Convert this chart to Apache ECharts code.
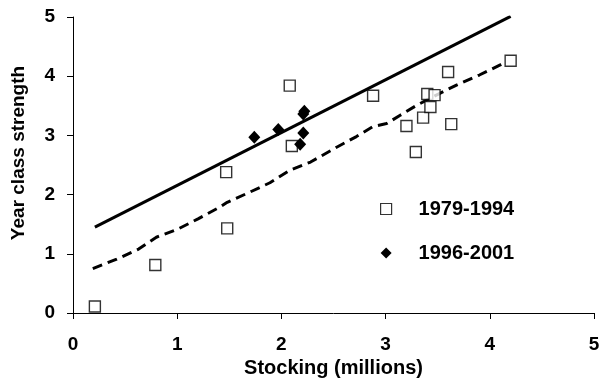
<!DOCTYPE html>
<html><head><meta charset="utf-8">
<script src="https://cdn.jsdelivr.net/npm/echarts@6/dist/echarts.min.js"></script>
<style>html,body{margin:0;padding:0;background:#fff}#c{width:600px;height:379px}</style>
</head><body><div id="c"></div>
<script>
const xTicks = [0,1,2,3,4,5];
const yTicks = [0,1,2,3,4,5];
const squares1979 = [[0.21,0.11],[0.79,0.81],[1.48,1.43],[1.47,2.38],[2.08,3.84],[2.10,2.82],[2.88,3.67],[3.20,3.16],[3.29,2.72],[3.36,3.30],[3.40,3.70],[3.47,3.68],[3.43,3.48],[3.60,4.07],[3.63,3.19],[4.20,4.26]];
const diamonds1996 = [[1.74,2.97],[1.97,3.10],[2.22,3.41],[2.21,3.36],[2.21,3.04],[2.18,2.85]];
const solidFit = [[0.21,1.45],[4.2,5.01]];
const dashedFit = [[0.19,0.75],[0.42,0.91],[0.63,1.08],[0.80,1.28],[1.01,1.42],[1.20,1.59],[1.41,1.79],[1.48,1.87],[1.67,2.02],[1.89,2.20],[2.08,2.41],[2.28,2.55],[2.53,2.80],[2.72,2.98],[2.88,3.15],[3.01,3.20],[3.14,3.34],[3.30,3.51],[3.52,3.71],[3.68,3.85],[3.90,4.02],[4.10,4.19],[4.16,4.25]];
const xTitle = 'Stocking (millions)';
const yTitle = 'Year class strength';
const chart = echarts.init(document.getElementById('c'));
const font = 'Liberation Sans, Arial, sans-serif';
chart.setOption({
  animation:false,
  backgroundColor:'#fff',
  grid:{left:73,right:6,top:17,bottom:66,containLabel:false,outerBoundsMode:'none'},
  graphic:[{type:'text',x:19,y:153,rotation:Math.PI/2,
    style:{text:yTitle,font:'bold 19px '+font,fill:'#000',align:'center',verticalAlign:'middle'}}],
  xAxis:{type:'value',min:0,max:5,interval:1,
    name:xTitle,nameLocation:'middle',nameGap:45,
    nameTextStyle:{fontFamily:font,fontWeight:'bold',fontSize:20,color:'#000'},
    axisLine:{lineStyle:{color:'#000',width:1}},
    axisTick:{show:true,length:6,lineStyle:{color:'#000'}},
    axisLabel:{fontFamily:font,fontWeight:'bold',fontSize:19,color:'#000',margin:22,formatter:v=>xTicks.includes(v)?String(v):''},
    splitLine:{show:false}},
  yAxis:{type:'value',min:0,max:5,interval:1,
    axisLine:{show:true,lineStyle:{color:'#000',width:1}},
    axisTick:{show:true,length:6,lineStyle:{color:'#000'}},
    axisLabel:{fontFamily:font,fontWeight:'bold',fontSize:19,color:'#000',margin:18,formatter:v=>yTicks.includes(v)?String(v):''},
    splitLine:{show:false}},
  legend:{orient:'vertical',left:380,top:199,padding:0,itemGap:24,itemWidth:11,itemHeight:11,
    data:[{name:'1979-1994',icon:'rect',itemStyle:{color:'#fff',borderColor:'#000',borderWidth:1.2}},
          {name:'1996-2001',icon:'diamond',itemStyle:{color:'#000'}}],
    textStyle:{fontFamily:font,fontWeight:'bold',fontSize:20,color:'#000',padding:[0,0,0,22]}},
  series:[
    {name:'solid',type:'line',data:solidFit,showSymbol:false,lineStyle:{color:'#000',width:3},z:2},
    {name:'dashed',type:'line',data:dashedFit,showSymbol:false,lineStyle:{color:'#000',width:3,type:[10,6]},z:2},
    {name:'1979-1994',type:'scatter',data:squares1979,symbol:'rect',symbolSize:11,
      itemStyle:{color:'#fff',borderColor:'#000',borderWidth:1.4},z:3},
    {name:'1996-2001',type:'scatter',data:diamonds1996,symbol:'diamond',symbolSize:[12,13],
      itemStyle:{color:'#000',opacity:1},z:4}
  ]
});
</script></body></html>
